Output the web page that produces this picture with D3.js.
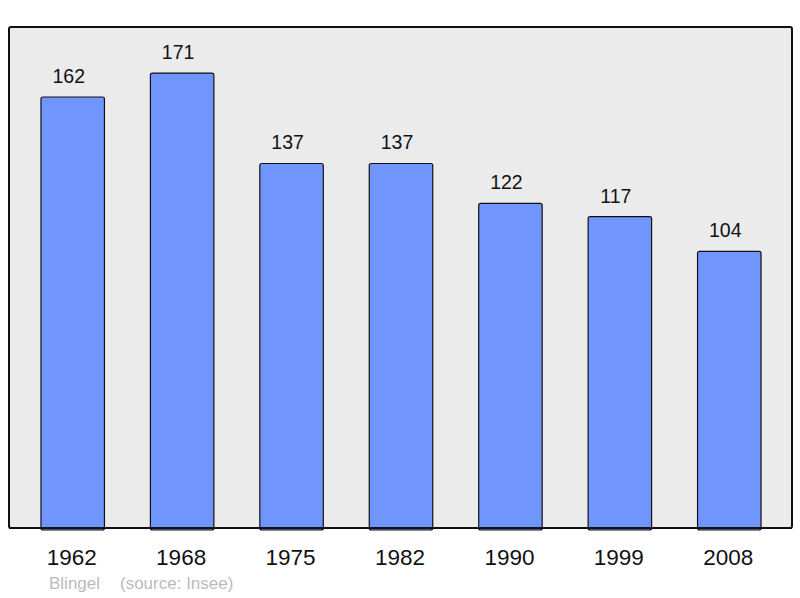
<!DOCTYPE html>
<html><head><meta charset="utf-8">
<script src="https://cdn.jsdelivr.net/npm/d3@7"></script>
<style>body{margin:0;background:#fff}svg{display:block}</style>
</head><body>
<script>
const years = ["1962","1968","1975","1982","1990","1999","2008"];
const population = [162,171,137,137,122,117,104];
const footerAuthor = "Blingel";
const footerSource = "(source: Insee)";

const W = 800, H = 598;
const svg = d3.select("body").append("svg").attr("width", W).attr("height", H);
const frame = {x0: 9, y0: 27, x1: 792, y1: 528};
const font = "Liberation Sans, Arial, sans-serif";

svg.append("rect").attr("x", frame.x0).attr("y", frame.y0)
  .attr("width", frame.x1 - frame.x0).attr("height", frame.y1 - frame.y0)
  .attr("rx", 2).attr("fill", "#ebebeb").attr("stroke", "#111").attr("stroke-width", 2);

const x = d3.scaleBand().domain(years).range([18, 784]).paddingInner(0.42).paddingOuter(0.21);
const y = d3.scaleLinear().domain([0, 188.3]).range([frame.y1, frame.y0]);

const data = years.map((yr, i) => ({yr, v: population[i]}));

svg.selectAll("rect.bar").data(data).enter().append("rect").attr("class", "bar")
  .attr("x", d => x(d.yr)).attr("y", d => y(d.v))
  .attr("width", x.bandwidth()).attr("height", d => y(0) - y(d.v) + 2)
  .attr("rx", 2).attr("fill", "#7096fe").attr("stroke", "#111").attr("stroke-width", 1.2);

svg.append("line").attr("x1", frame.x0).attr("x2", frame.x1).attr("y1", frame.y1).attr("y2", frame.y1)
  .attr("stroke", "#111").attr("stroke-width", 2);

svg.selectAll("text.val").data(data).enter().append("text").attr("class", "val")
  .attr("x", d => x(d.yr) + x.bandwidth() / 2 - 4).attr("y", d => y(d.v) - 14)
  .attr("text-anchor", "middle").attr("font-family", font)
  .attr("font-size", 19.5).attr("fill", "#111").text(d => d.v);

svg.selectAll("text.yr").data(data).enter().append("text").attr("class", "yr")
  .attr("x", d => x(d.yr) + x.bandwidth() / 2 - 1).attr("y", 565)
  .attr("text-anchor", "middle").attr("font-family", font)
  .attr("font-size", 22.5).attr("fill", "#111").text(d => d.yr);

svg.append("text").attr("x", 49).attr("y", 589).attr("font-family", font)
  .attr("font-size", 17).attr("fill", "#bbb").text(footerAuthor);
svg.append("text").attr("x", 120).attr("y", 589).attr("font-family", font)
  .attr("font-size", 17).attr("fill", "#bbb").text(footerSource);
</script>
</body></html>
